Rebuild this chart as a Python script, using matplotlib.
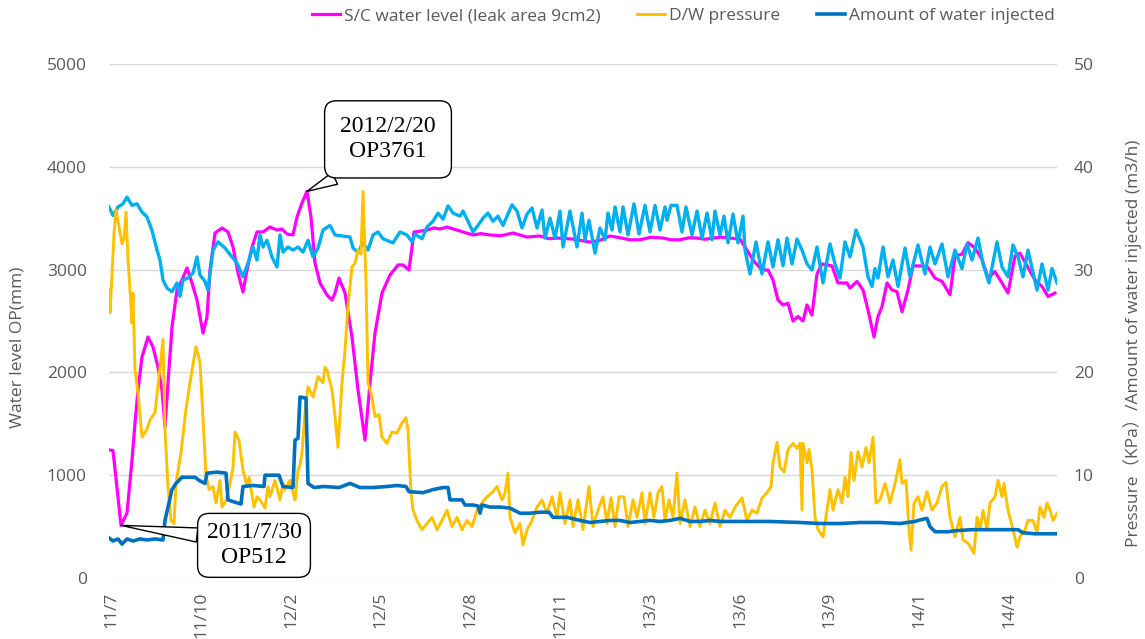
import matplotlib
matplotlib.use("Agg")
import matplotlib.pyplot as plt

# x values are days from the left edge of the time axis
tick_days = [2, 92, 182, 271, 361, 451, 541, 631, 720, 810, 900]
tick_labels = ["11/7", "11/10", "12/2", "12/5", "12/8", "12/11",
               "13/3", "13/6", "13/9", "14/1", "14/4"]

# S/C water level (mm), left axis
sc_day = [1, 4, 12, 18, 23, 26, 29, 33, 39, 44, 49, 53, 56, 59, 63, 68, 73, 78, 83, 88,
          94, 98, 101, 106, 113, 119, 124, 129, 134, 138, 143, 148, 154, 161, 168, 173,
          178, 184, 188, 193, 198, 202, 206, 211, 218, 223, 226, 230, 236, 243, 249, 256,
          261, 266, 273, 281, 289, 294, 300, 305, 312, 318, 325, 331, 338, 348, 356, 364,
          372, 381, 392, 404, 418, 431, 440, 448, 464, 481, 491, 501, 511, 521, 531, 542,
          554, 562, 571, 580, 588, 596, 604, 612, 621, 631, 638, 644, 653, 659, 664, 669,
          674, 679, 684, 689, 694, 698, 703, 708, 713, 723, 729, 738, 741, 748, 754, 759,
          765, 769, 773, 778, 783, 788, 793, 799, 804, 813, 819, 826, 833, 841, 846, 853,
          859, 866, 873, 879, 886, 893, 899, 906, 911, 919, 926, 933, 939, 946]
sc_level = [1245, 1240, 512, 632, 1148, 1508, 1829, 2150, 2344, 2247, 2052, 1829, 1470,
            1897, 2442, 2802, 2899, 3016, 2870, 2704, 2383, 2539, 2996, 3356, 3405, 3366,
            3220, 2967, 2782, 2996, 3220, 3366, 3366, 3414, 3385, 3395, 3346, 3337, 3512,
            3648, 3761, 3512, 3064, 2870, 2753, 2704, 2772, 2918, 2772, 2344, 1829, 1342,
            1897, 2383, 2772, 2947, 3045, 3045, 2996, 3366, 3375, 3385, 3405, 3395, 3414,
            3385, 3360, 3337, 3350, 3337, 3330, 3356, 3317, 3327, 3300, 3307, 3297, 3268,
            3285, 3327, 3310, 3290, 3290, 3315, 3307, 3290, 3290, 3310, 3307, 3295, 3307,
            3315, 3307, 3297, 3190, 3093, 2996, 2996, 2899, 2704, 2656, 2672, 2500, 2545,
            2500, 2656, 2558, 2958, 3055, 3036, 2870, 2870, 2820, 2885, 2802, 2607, 2344,
            2545, 2640, 2870, 2802, 2785, 2590, 2802, 3036, 3036, 3020, 2918, 2885, 2755,
            3132, 3150, 3262, 3210, 3100, 2918, 2980, 2870, 2772, 3132, 3160, 3020, 2899,
            2836, 2738, 2772]

# second water level trace (light blue, not in legend), left axis
lb_day = [0, 4, 9, 14, 18, 23, 28, 33, 38, 43, 48, 51, 54, 58, 63, 68, 71, 74, 79, 84,
          88, 91, 96, 99, 104, 109, 116, 123, 128, 134, 139, 144, 148, 151, 154, 158, 163,
          168, 171, 174, 179, 184, 189, 194, 199, 204, 209, 214, 221, 226, 233, 241, 244,
          249, 254, 259, 264, 269, 274, 284, 291, 298, 303, 306, 313, 318, 324, 329, 334,
          339, 344, 351, 354, 359, 364, 369, 374, 379, 384, 389, 394, 398, 403, 408, 413,
          418, 423, 428, 433, 436, 441, 446, 451, 454, 461, 468, 473, 476, 480, 486, 491,
          496, 499, 503, 506, 511, 514, 519, 525, 530, 536, 541, 546, 551, 556, 558, 562,
          568, 573, 577, 583, 588, 593, 598, 603, 606, 611, 615, 619, 624, 629, 634, 636,
          641, 647, 653, 659, 664, 669, 674, 678, 683, 688, 693, 698, 703, 708, 714, 721,
          726, 731, 736, 741, 747, 754, 759, 763, 766, 769, 774, 779, 784, 789, 796, 801,
          809, 816, 821, 826, 833, 839, 846, 853, 858, 863, 869, 874, 880, 888, 893, 899,
          904, 909, 914, 919, 928, 933, 939, 943, 948]
lb_level = [3609, 3527, 3609, 3640, 3705, 3625, 3640, 3560, 3512, 3380, 3190, 3093, 2899,
            2820, 2785, 2870, 2740, 2899, 2918, 2967, 3123, 2947, 2885, 2800, 3190, 3270,
            3210, 3123, 3064, 2930, 3064, 3220, 3093, 3337, 3220, 3285, 3123, 3025, 3337,
            3170, 3220, 3190, 3220, 3170, 3285, 3123, 3210, 3385, 3430, 3337, 3327, 3317,
            3210, 3170, 3260, 3190, 3337, 3366, 3300, 3260, 3366, 3337, 3270, 3346, 3300,
            3414, 3470, 3550, 3490, 3620, 3550, 3520, 3570, 3470, 3366, 3430, 3500, 3550,
            3470, 3520, 3430, 3520, 3630, 3570, 3405, 3540, 3600, 3405, 3580, 3307, 3500,
            3307, 3570, 3220, 3570, 3220, 3550, 3290, 3480, 3160, 3405, 3290, 3550, 3385,
            3610, 3366, 3610, 3337, 3640, 3346, 3625, 3366, 3625, 3385, 3610, 3480, 3625,
            3625, 3366, 3610, 3337, 3570, 3307, 3550, 3290, 3570, 3337, 3520, 3260, 3540,
            3260, 3520, 3190, 2958, 3270, 2958, 3270, 3025, 3290, 3036, 3307, 3055, 3297,
            3190, 3055, 2996, 3220, 2870, 3250, 3055, 2918, 3270, 3123, 3385, 3220, 2930,
            2836, 3010, 2918, 3220, 2930, 3093, 2836, 3210, 2930, 3240, 2958, 3220, 3055,
            3250, 2930, 3190, 3010, 3250, 3093, 3307, 3055, 2870, 3270, 3025, 2930, 3240,
            3123, 2930, 3190, 2800, 3055, 2800, 3010, 2870]

# D/W pressure (kPa), right axis
dw_day = [0, 1, 3, 5, 7, 10, 13, 15, 17, 19, 21, 23, 24, 26, 29, 33, 38, 41, 46, 50, 54,
          56, 59, 62, 65, 67, 72, 77, 82, 87, 91, 94, 97, 100, 104, 107, 111, 113, 117, 121,
          124, 126, 130, 134, 138, 140, 145, 148, 151, 156, 159, 161, 166, 171, 174, 176,
          181, 184, 186, 189, 191, 193, 196, 199, 204, 209, 214, 216, 218, 223, 226, 229,
          233, 236, 239, 243, 246, 249, 252, 254, 257, 259, 263, 266, 270, 273, 278, 283,
          288, 293, 297, 299, 302, 304, 308, 313, 318, 323, 328, 333, 338, 343, 348, 353,
          358, 363, 368, 373, 378, 383, 388, 393, 396, 399, 401, 406, 411, 414, 418, 423,
          428, 433, 438, 443, 448, 451, 456, 461, 464, 469, 474, 480, 484, 489, 494, 498,
          502, 506, 510, 515, 519, 524, 528, 533, 536, 541, 545, 549, 553, 556, 560, 564,
          568, 571, 576, 581, 586, 591, 596, 601, 606, 611, 616, 621, 626, 633, 638, 643,
          648, 653, 658, 662, 664, 668, 671, 675, 679, 684, 688, 691, 693, 694, 698, 700,
          703, 706, 709, 714, 718, 721, 724, 729, 733, 736, 739, 742, 745, 749, 753, 757,
          760, 764, 767, 771, 776, 781, 786, 791, 793, 797, 800, 802, 805, 809, 813, 818,
          823, 828, 833, 837, 841, 846, 851, 854, 859, 865, 868, 871, 874, 878, 881, 886,
          889, 893, 895, 899, 904, 908, 911, 916, 919, 924, 928, 931, 935, 938, 941, 944,
          948]
dw_press = [28.0, 25.8, 29.5, 33.5, 35.8, 34.2, 32.5, 33.0, 35.6, 31.0, 28.0, 24.8, 27.7,
            20.2, 18.0, 13.7, 14.5, 15.4, 16.1, 19.6, 23.2, 14.4, 8.9, 5.6, 5.3, 9.2, 12.2,
            16.5, 19.6, 22.5, 21.0, 15.4, 10.0, 8.6, 8.9, 7.3, 9.5, 6.9, 7.5, 9.2, 10.8,
            14.2, 13.4, 10.5, 8.9, 9.8, 6.9, 7.9, 7.6, 6.8, 8.9, 7.9, 9.5, 7.6, 9.2, 8.6,
            9.5, 8.3, 7.6, 10.5, 11.0, 12.2, 16.1, 18.6, 17.6, 19.6, 19.0, 20.5, 20.2, 18.3,
            15.7, 12.7, 19.0, 22.2, 26.4, 30.3, 30.6, 31.9, 31.5, 37.6, 28.7, 19.0, 17.6,
            15.7, 15.9, 13.7, 13.1, 14.2, 14.1, 15.1, 15.6, 14.4, 8.3, 6.6, 5.6, 4.7, 5.3,
            5.9, 4.7, 5.6, 6.6, 5.0, 5.9, 4.7, 5.6, 5.0, 6.6, 7.3, 7.9, 8.3, 8.9, 7.6, 8.3,
            10.2, 5.9, 4.4, 5.3, 3.2, 4.7, 5.6, 6.9, 7.6, 6.3, 7.9, 5.9, 8.3, 5.3, 7.6, 5.0,
            7.6, 4.7, 8.9, 5.0, 6.6, 7.9, 5.3, 7.8, 5.0, 7.9, 7.9, 5.0, 7.6, 5.9, 8.3, 5.3,
            8.3, 5.9, 8.3, 8.9, 5.6, 7.6, 5.9, 10.2, 5.3, 7.6, 5.0, 6.9, 5.0, 6.6, 5.3, 7.3,
            5.0, 6.6, 5.9, 6.9, 7.8, 5.6, 6.6, 6.3, 7.8, 8.3, 8.9, 11.2, 13.2, 10.8, 10.3,
            12.5, 13.1, 12.6, 13.1, 6.6, 13.1, 11.2, 12.5, 10.5, 5.9, 4.7, 4.0, 6.6, 8.6,
            6.6, 8.6, 7.3, 9.8, 7.9, 12.2, 9.5, 12.3, 10.8, 12.7, 11.2, 13.7, 7.3, 7.6, 9.2,
            7.3, 9.2, 11.5, 9.2, 9.5, 4.7, 2.7, 7.3, 7.9, 6.6, 8.4, 6.6, 7.3, 8.9, 9.3, 5.9,
            4.0, 5.9, 3.7, 3.4, 2.4, 5.9, 4.7, 6.6, 4.7, 7.3, 7.9, 9.5, 7.9, 9.2, 6.6, 4.7,
            3.0, 4.0, 4.7, 5.6, 5.6, 4.4, 6.9, 5.9, 7.3, 6.6, 5.6, 6.3]

# amount of water injected (m3/h), right axis
inj_day = [0, 4, 9, 13, 18, 24, 31, 38, 46, 54, 56, 59, 63, 67, 73, 86, 90, 96, 98, 108,
           117, 119, 125, 132, 134, 144, 155, 156, 170, 174, 184, 186, 189, 191, 197, 199,
           205, 215, 230, 241, 251, 264, 278, 288, 297, 300, 314, 324, 334, 339, 341, 348,
           353, 356, 364, 369, 371, 373, 381, 391, 401, 411, 421, 431, 440, 444, 458, 471,
           481, 491, 501, 511, 521, 531, 541, 551, 561, 571, 581, 591, 601, 611, 621, 641,
           661, 691, 711, 731, 751, 771, 791, 806, 813, 818, 821, 826, 839, 846, 863, 889,
           909, 914, 926, 948]
inj_rate = [3.9, 3.6, 3.8, 3.3, 3.8, 3.6, 3.8, 3.7, 3.8, 3.7, 5.6, 6.9, 8.6, 9.2, 9.8, 9.8,
            9.5, 9.2, 10.2, 10.3, 10.2, 7.6, 7.4, 7.2, 8.9, 9.0, 8.9, 10.0, 10.0, 8.9, 8.8,
            13.4, 13.6, 17.6, 17.5, 9.2, 8.8, 8.9, 8.8, 9.2, 8.8, 8.8, 8.9, 9.0, 8.9, 8.4,
            8.3, 8.6, 8.8, 8.8, 7.6, 7.6, 7.6, 7.1, 7.1, 7.0, 6.3, 7.1, 6.9, 6.9, 6.8, 6.3,
            6.3, 6.4, 6.4, 5.9, 5.9, 5.6, 5.4, 5.5, 5.6, 5.6, 5.4, 5.5, 5.6, 5.5, 5.6, 5.8,
            5.5, 5.5, 5.6, 5.5, 5.5, 5.5, 5.5, 5.4, 5.3, 5.3, 5.4, 5.4, 5.3, 5.5, 5.7, 5.8,
            5.0, 4.5, 4.5, 4.6, 4.7, 4.7, 4.7, 4.4, 4.3, 4.3]

peak_day, peak_level = 198, 3761
low_day, low_level = 12, 512

TXT = "#595959"
plt.rcParams['font.family'] = ['Open Sans', 'Noto Sans CJK JP', 'DejaVu Sans']
plt.rcParams['font.size'] = 12.5

fig = plt.figure(figsize=(11.45, 6.39), dpi=100)
ax = fig.add_axes([109 / 1145, 1 - 578 / 639, 948 / 1145, 514 / 639])
ax2 = ax.twinx()

l_sc, = ax.plot(sc_day, sc_level, color='#FF00FF', lw=2.3,
                label='S/C water level (leak area 9cm2)')
ax.plot(lb_day, lb_level, color='#00B0F0', lw=2.4, label='_nolegend_')
l_dw, = ax2.plot(dw_day, dw_press, color='#FFC000', lw=2.1, label='D/W pressure')
l_inj, = ax2.plot(inj_day, inj_rate, color='#0070C0', lw=2.6,
                  label='Amount of water injected')

ax.set_xlim(0, 948)
ax.set_ylim(0, 5000)
ax2.set_ylim(0, 50)
ax.set_yticks(range(0, 5001, 1000))
ax2.set_yticks(range(0, 51, 10))
ax.set_xticks(tick_days, tick_labels, rotation=90)

ax.yaxis.grid(True, color='#D9D9D9', lw=1)
ax.set_axisbelow(True)
for a in (ax, ax2):
    for s in a.spines.values():
        s.set_visible(False)
ax.tick_params(axis='y', length=0, pad=16, colors=TXT)
ax.tick_params(axis='x', length=0, pad=10, colors=TXT)
ax2.tick_params(axis='y', length=0, pad=12, colors=TXT)

fig.text(18 / 1145, 1 - 347 / 639, 'Water level OP(mm)', rotation=90,
         ha='center', va='center', color=TXT)
fig.text(1133 / 1145, 1 - 343 / 639,
         'Pressure（KPa）/Amount of water injected (m3/h)', rotation=90,
         ha='center', va='center', color=TXT)

fig.legend(handles=[l_sc, l_dw, l_inj], loc='center right',
           bbox_to_anchor=(1055 / 1145, 1 - 16 / 639), ncol=3, frameon=False,
           borderaxespad=0, borderpad=0, handlelength=1.6, handletextpad=0.25,
           columnspacing=2.1, labelcolor=TXT)

# callouts
ax2.annotate('2012/2/20\nOP3761', xy=(peak_day, peak_level), xycoords=ax.transData,
             xytext=(81, 52), textcoords='offset pixels', ha='center', va='center',
             family='Liberation Serif', fontsize=17, linespacing=1.25, zorder=10,
             bbox=dict(boxstyle='round,pad=0.66,rounding_size=0.5', fc='white',
                       ec='black', lw=1),
             arrowprops=dict(arrowstyle='wedge,tail_width=0.55,shrink_factor=0.5',
                             fc='white', ec='black', lw=1, relpos=(0.3, 0.0),
                             shrinkA=0, shrinkB=0))
ax2.annotate('2011/7/30\nOP512', xy=(low_day, low_level), xycoords=ax.transData,
             xytext=(133, -20), textcoords='offset pixels', ha='center', va='center',
             family='Liberation Serif', fontsize=17, linespacing=1.25, zorder=10,
             bbox=dict(boxstyle='round,pad=0.38,rounding_size=0.5', fc='white',
                       ec='black', lw=1),
             arrowprops=dict(arrowstyle='wedge,tail_width=0.6,shrink_factor=0.5',
                             fc='white', ec='black', lw=1, relpos=(0.0, 0.7),
                             shrinkA=0, shrinkB=0))

fig.savefig('out.png', dpi=100, facecolor='white')
